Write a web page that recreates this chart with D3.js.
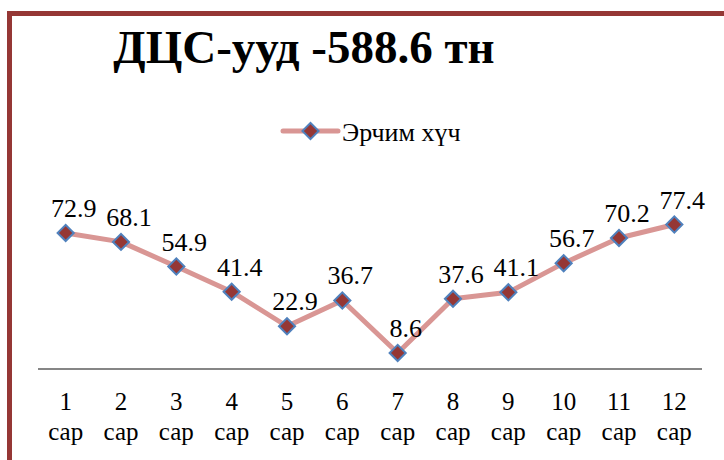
<!DOCTYPE html>
<html>
<head>
<meta charset="utf-8">
<script src="https://cdn.jsdelivr.net/npm/d3@7"></script>
<style>
  body { margin: 0; background: #fff; }
</style>
</head>
<body>
<div id="chart"></div>
<script>
var months = ["1", "2", "3", "4", "5", "6", "7", "8", "9", "10", "11", "12"];
var monthWord = "сар";
var values = [72.9, 68.1, 54.9, 41.4, 22.9, 36.7, 8.6, 37.6, 41.1, 56.7, 70.2, 77.4];
var seriesName = "Эрчим хүч";
var title = "ДЦС-ууд -588.6 тн";

var width = 724,
    height = 460;
var serif = "Liberation Serif";

var svg = d3.select("#chart")
  .append("svg")
  .attr("width", width)
  .attr("height", height);

// frame (runs off the right and bottom edge)
svg.append("rect")
  .attr("x", 9.5).attr("y", 13.5)
  .attr("width", 760).attr("height", 500)
  .attr("fill", "none")
  .attr("stroke", "#953735")
  .attr("stroke-width", 5);

svg.append("text")
  .attr("x", 304).attr("y", 63)
  .attr("text-anchor", "middle")
  .attr("font-family", serif)
  .attr("font-size", 47)
  .attr("font-weight", "bold")
  .text(title);

var x = d3.scaleBand()
  .domain(months)
  .range([38, 702]);

var y = d3.scaleLinear()
  .domain([0, 90])
  .range([369, 201]);

// category axis
svg.append("line")
  .attr("x1", 38).attr("x2", 702)
  .attr("y1", y(0)).attr("y2", y(0))
  .attr("stroke", "#868686")
  .attr("stroke-width", 2);

var ticks = svg.append("g").selectAll("text")
  .data(months)
  .enter().append("text")
  .attr("text-anchor", "middle")
  .attr("font-family", serif)
  .attr("font-size", 25);
ticks.append("tspan")
  .attr("x", function(d) { return x(d) + x.bandwidth() / 2; })
  .attr("y", 410)
  .text(function(d) { return d; });
ticks.append("tspan")
  .attr("x", function(d) { return x(d) + x.bandwidth() / 2; })
  .attr("y", 440)
  .text(monthWord);

var line = d3.line()
  .x(function(d, i) { return x(months[i]) + x.bandwidth() / 2; })
  .y(function(d) { return y(d); });

svg.append("path")
  .datum(values)
  .attr("d", line)
  .attr("fill", "none")
  .attr("stroke", "#d99694")
  .attr("stroke-width", 5)
  .attr("stroke-linejoin", "round");

var diamond = d3.symbol().type(d3.symbolSquare).size(130);

svg.append("g").selectAll("path")
  .data(values)
  .enter().append("path")
  .attr("d", diamond)
  .attr("transform", function(d, i) {
    return "translate(" + (x(months[i]) + x.bandwidth() / 2) + "," + y(d) + ") rotate(45)";
  })
  .attr("fill", "#953735")
  .attr("stroke", "#4f81bd")
  .attr("stroke-width", 2);

// value labels, a little up and to the right of each point
svg.append("g").selectAll("text")
  .data(values)
  .enter().append("text")
  .attr("text-anchor", "middle")
  .attr("font-family", serif)
  .attr("font-size", 26)
  .attr("x", function(d, i) { return x(months[i]) + x.bandwidth() / 2 + 8; })
  .attr("y", function(d) { return y(d) - 16; })
  .text(function(d) { return d; });

// legend
var lg = svg.append("g").attr("transform", "translate(283,131)");
lg.append("line")
  .attr("x1", 0).attr("x2", 55)
  .attr("stroke", "#d99694")
  .attr("stroke-width", 5)
  .attr("stroke-linecap", "round");
lg.append("path")
  .attr("d", diamond)
  .attr("transform", "translate(27.5,0) rotate(45)")
  .attr("fill", "#953735")
  .attr("stroke", "#4f81bd")
  .attr("stroke-width", 2);
lg.append("text")
  .attr("x", 59).attr("y", 10)
  .attr("font-family", serif)
  .attr("font-size", 26)
  .text(seriesName);
</script>
</body>
</html>
